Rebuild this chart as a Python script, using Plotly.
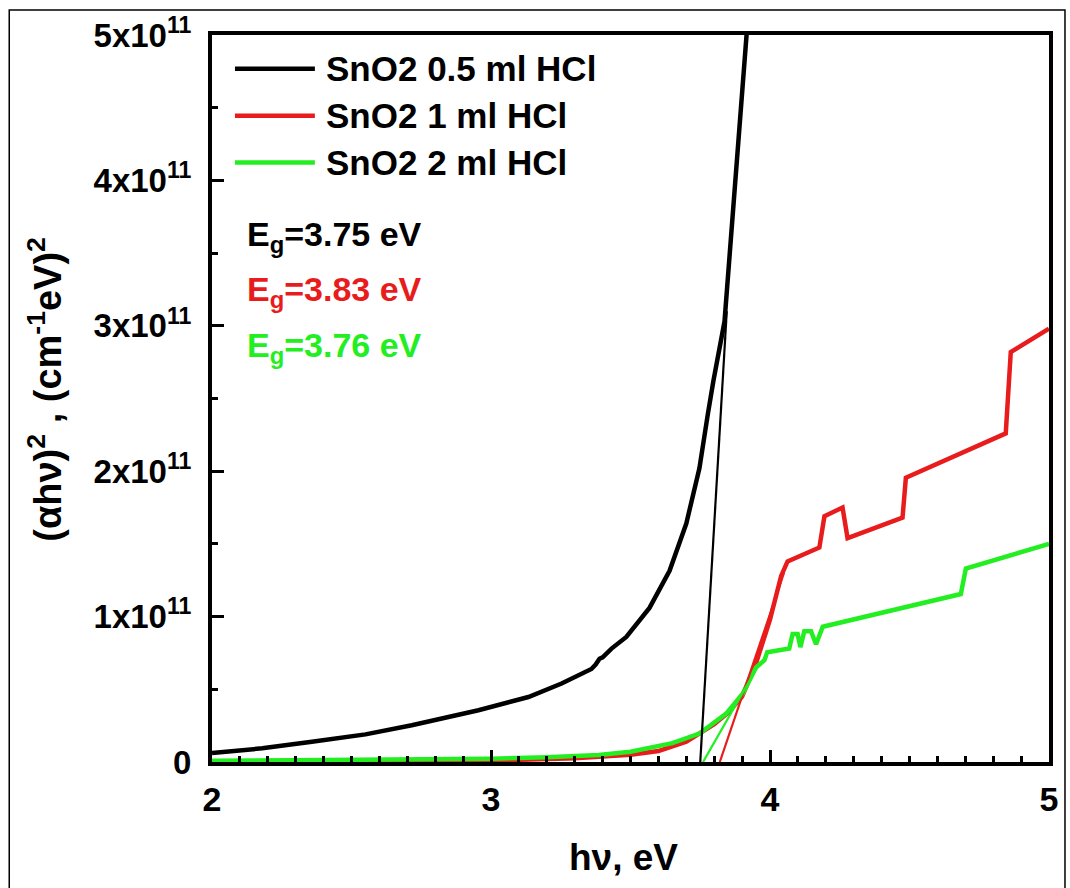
import plotly.graph_objects as go

# ---- data (y in units of 1e11) ----
hv_black = [2.0, 2.18, 2.358, 2.55, 2.716, 2.955, 3.134, 3.253, 3.36, 3.375, 3.389, 3.40, 3.432,
            3.485, 3.568, 3.64, 3.70, 3.747, 3.777, 3.797, 3.837, 3.882, 3.92]
y_black = [0.062, 0.094, 0.139, 0.19, 0.253, 0.356, 0.447, 0.54, 0.64, 0.67, 0.71, 0.72, 0.78,
           0.86, 1.06, 1.315, 1.64, 2.02, 2.39, 2.62, 3.03, 4.12, 5.1]

hv_red = [2.0, 2.5, 3.0, 3.3, 3.5, 3.6, 3.7, 3.8, 3.85, 3.9, 3.95, 4.0, 4.04, 4.063, 4.177,
          4.195, 4.26, 4.278, 4.475, 4.487, 4.845, 4.863, 5.0]
y_red = [0.0, 0.003, 0.01, 0.025, 0.05, 0.075, 0.14, 0.26, 0.34, 0.45, 0.68, 0.98, 1.28, 1.38,
         1.475, 1.69, 1.75, 1.54, 1.68, 1.955, 2.26, 2.82, 2.98]

hv_green = [2.0, 2.5, 3.0, 3.2, 3.386, 3.5, 3.568, 3.65, 3.747, 3.843, 3.902, 3.95, 3.98, 3.99,
            4.069, 4.081, 4.099, 4.109, 4.123, 4.147, 4.165, 4.189, 4.684, 4.702, 5.0]
y_green = [0.008, 0.012, 0.022, 0.033, 0.048, 0.07, 0.094, 0.13, 0.196, 0.333, 0.47, 0.65, 0.70,
           0.755, 0.78, 0.88, 0.88, 0.79, 0.90, 0.90, 0.81, 0.93, 1.155, 1.33, 1.50]

fit_black_x = [3.75, 3.845]
fit_black_y = [0.0, 3.1]
fit_red_x = [3.82, 4.05]
fit_red_y = [0.0, 1.3]
fit_green_x = [3.76, 3.93]
fit_green_y = [0.0, 0.57]

names = ["SnO2 0.5 ml HCl", "SnO2 1 ml HCl", "SnO2 2 ml HCl"]
eg_labels = ["E<sub>g</sub>=3.75 eV", "E<sub>g</sub>=3.83 eV", "E<sub>g</sub>=3.76 eV"]
y_tickvals = [0, 1, 2, 3, 4, 5]
y_ticktext = ["0", "1x10<sup>11</sup>", "2x10<sup>11</sup>", "3x10<sup>11</sup>",
              "4x10<sup>11</sup>", "5x10<sup>11</sup>"]
x_tickvals = [2, 3, 4, 5]

BLACK = "#000000"
RED = "#e81c1c"
GREEN = "#22ee22"
colors = [BLACK, RED, GREEN]
SCALE = 1e11
FONT = "Arial, 'Liberation Sans', sans-serif"

fig = go.Figure()
series = [(hv_black, y_black), (hv_red, y_red), (hv_green, y_green)]
for (xs, ys), c, n in zip(series, colors, names):
    fig.add_trace(go.Scatter(x=xs, y=[v * SCALE for v in ys], mode="lines", name=n,
                             line=dict(color=c, width=4.5), showlegend=False))
fits = [(fit_black_x, fit_black_y), (fit_red_x, fit_red_y), (fit_green_x, fit_green_y)]
for (xs, ys), c, n in zip(fits, colors, names):
    fig.add_trace(go.Scatter(x=xs, y=[v * SCALE for v in ys], mode="lines", name=n + " fit",
                             line=dict(color=c, width=2.2), showlegend=False))

W, H = 1070, 888
L, R, T, B = 212, 20, 32, 126
pw, ph = W - L - R, H - T - B


def px_x(px):
    return (px - L) / pw


def px_y(py):
    return (H - B - py) / ph


annotations = []
shapes = []
# manual legend
leg_rows = [66, 113, 160]
for n, c, yy in zip(names, colors, leg_rows):
    shapes.append(dict(type="line", xref="paper", yref="paper", x0=px_x(235), x1=px_x(315),
                       y0=px_y(yy), y1=px_y(yy), line=dict(color=c, width=4.5)))
    annotations.append(dict(text="<b>" + n + "</b>", xref="paper", yref="paper", x=px_x(324),
                            y=px_y(yy), xanchor="left", yanchor="middle", showarrow=False,
                            font=dict(family=FONT, size=35, color=BLACK)))
# Eg labels
eg_rows = [234, 290, 346]
for t, c, yy in zip(eg_labels, colors, eg_rows):
    annotations.append(dict(text="<b>" + t + "</b>", xref="paper", yref="paper", x=px_x(245),
                            y=px_y(yy), xanchor="left", yanchor="middle", showarrow=False,
                            font=dict(family=FONT, size=34, color=c)))
# axis titles
annotations.append(dict(text="<b>h\u03bd, eV</b>", xref="paper", yref="paper", x=px_x(624),
                        y=px_y(858), xanchor="center", yanchor="middle", showarrow=False,
                        font=dict(family=FONT, size=37, color=BLACK)))
annotations.append(dict(text="<b>(\u03b1h\u03bd)<sup>2</sup> , (cm<sup>-1</sup>eV)<sup>2</sup></b>",
                        xref="paper", yref="paper", x=px_x(44), y=px_y(388), textangle=-90,
                        xanchor="center", yanchor="middle", showarrow=False,
                        font=dict(family=FONT, size=38, color=BLACK)))
# outer frame
shapes.append(dict(type="rect", xref="paper", yref="paper", x0=px_x(9), x1=px_x(1066),
                   y0=px_y(895), y1=px_y(7), line=dict(color=BLACK, width=1.5)))

fig.update_layout(
    width=W, height=H,
    margin=dict(l=L, r=R, t=T, b=B),
    paper_bgcolor="white", plot_bgcolor="white",
    showlegend=False,
    annotations=annotations, shapes=shapes,
    xaxis=dict(range=[2, 5], tickvals=x_tickvals, ticks="inside", ticklen=12, tickwidth=3,
               tickcolor=BLACK, showline=True, linewidth=4, linecolor=BLACK, mirror=True,
               showgrid=False, zeroline=False, ticklabelstandoff=4,
               tickfont=dict(family=FONT, size=34, color=BLACK, weight="bold"),
               minor=dict(dtick=0.1, ticks="inside", ticklen=6, tickwidth=3, tickcolor=BLACK,
                          showgrid=False)),
    yaxis=dict(range=[0, 5 * SCALE], tickvals=[v * SCALE for v in y_tickvals],
               ticktext=y_ticktext, ticks="inside", ticklen=12, tickwidth=3, tickcolor=BLACK,
               showline=True, linewidth=4, linecolor=BLACK, mirror=True, showgrid=False,
               zeroline=False, ticklabelstandoff=10,
               tickfont=dict(family=FONT, size=33, color=BLACK, weight="bold"),
               minor=dict(dtick=0.5 * SCALE, ticks="inside", ticklen=6, tickwidth=3,
                          tickcolor=BLACK, showgrid=False)),
)

fig.write_html("out.html")
